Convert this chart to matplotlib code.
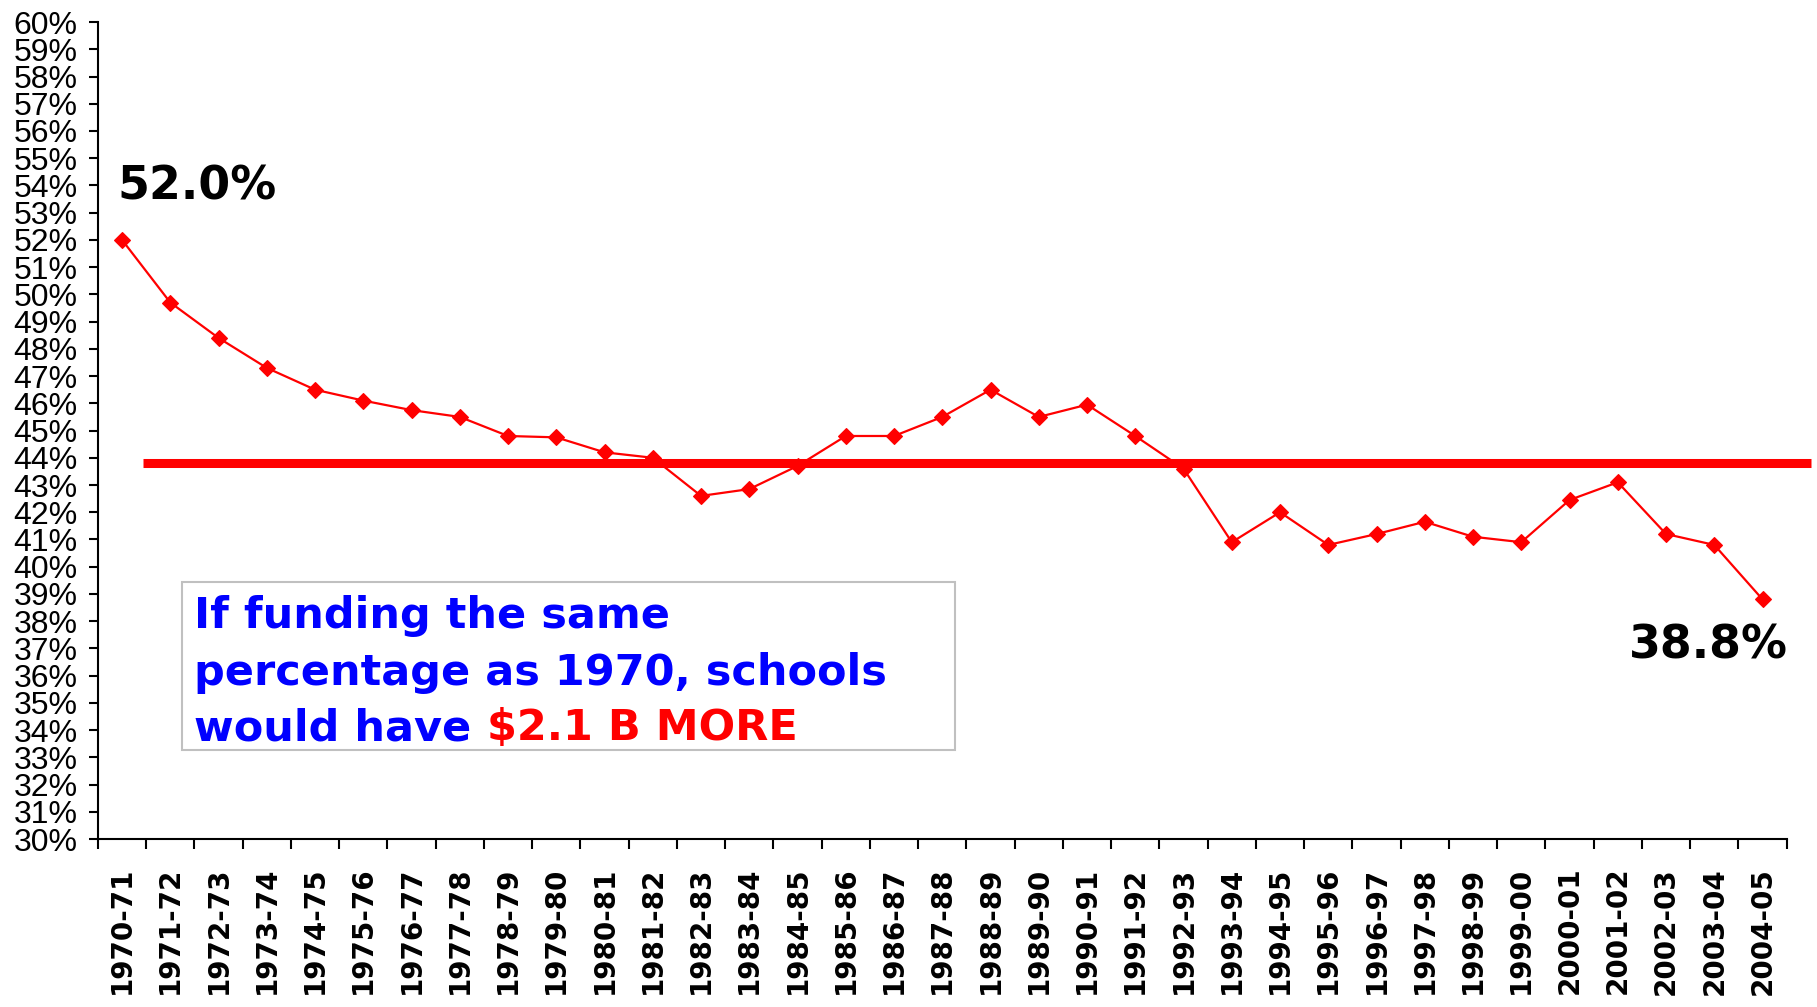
import matplotlib
matplotlib.use("Agg")
import matplotlib.pyplot as plt
from matplotlib.patches import Rectangle

# %% data
years = [
    "1970-71", "1971-72", "1972-73", "1973-74", "1974-75", "1975-76", "1976-77",
    "1977-78", "1978-79", "1979-80", "1980-81", "1981-82", "1982-83", "1983-84",
    "1984-85", "1985-86", "1986-87", "1987-88", "1988-89", "1989-90", "1990-91",
    "1991-92", "1992-93", "1993-94", "1994-95", "1995-96", "1996-97", "1997-98",
    "1998-99", "1999-00", "2000-01", "2001-02", "2002-03", "2003-04", "2004-05",
]
share = [
    52.0, 49.7, 48.4, 47.3, 46.5, 46.1, 45.75, 45.5, 44.8, 44.75, 44.2, 44.0,
    42.6, 42.85, 43.7, 44.8, 44.8, 45.5, 46.5, 45.5, 45.95, 44.8, 43.6, 40.9,
    42.0, 40.8, 41.2, 41.65, 41.1, 40.9, 42.45, 43.1, 41.2, 40.8, 38.8,
]
average = 43.8
y_ticks = list(range(30, 61))
first_label = "52.0%"
last_label = "38.8%"
box_lines = ["If funding the same", "percentage as 1970, schools", "would have "]
box_highlight = "$2.1 B MORE"

# %% plot
fig = plt.figure(figsize=(18.17, 10.07), dpi=100)
ax = fig.add_axes([0.0539, 0.1668, 0.9294, 0.8113])

x = list(range(len(years)))
ax.plot(x, share, color="#ff0000", linewidth=1.6, marker="D", markersize=8,
        markeredgewidth=0.8, zorder=3)
ax.plot([0.43, 35.0], [average, average], color="#ff0000", linewidth=6.5,
        solid_capstyle="butt", clip_on=False, zorder=2)

ax.set_xlim(-0.5, len(years) - 0.5)
ax.set_ylim(30, 60)
ax.set_yticks(y_ticks)
ax.set_yticklabels([f"{v}%" for v in y_ticks], fontfamily="Liberation Sans",
                   fontsize=23)
ax.set_xticks([i - 0.5 for i in range(len(years) + 1)])
ax.set_xticklabels([])
ax.set_xticks(x, minor=True)
ax.set_xticklabels(years, minor=True, rotation=90, fontfamily="DejaVu Sans",
                   fontweight="bold", fontsize=20)
ax.tick_params(axis="x", which="minor", length=0, pad=20)
ax.tick_params(axis="x", which="major", length=7, width=1.5)
ax.tick_params(axis="y", length=6.5, width=1.5, pad=8)
ax.spines[["top", "right"]].set_visible(False)
ax.spines[["left", "bottom"]].set_linewidth(1.5)

# end point labels
ax.annotate(first_label, (x[0], share[0]), xytext=(-3, 29),
            textcoords="offset points", ha="left", va="baseline",
            fontsize=33, fontweight="bold", fontfamily="DejaVu Sans")
ax.annotate(last_label, (x[-1], share[-1]), xytext=(18, -42.5),
            textcoords="offset points", ha="right", va="baseline",
            fontsize=33, fontweight="bold", fontfamily="DejaVu Sans")

# text box
ax.add_patch(Rectangle((0.0497, 0.1089), 0.4578, 0.2057, transform=ax.transAxes,
                       facecolor="white", edgecolor="#c0c0c0", linewidth=1.5,
                       zorder=4))
for line, ypos in zip(box_lines, [0.2583, 0.1885, 0.1212]):
    t = ax.text(0.0571, ypos, line, transform=ax.transAxes, color="#0000ff",
                fontsize=31, fontweight="bold", fontfamily="DejaVu Sans",
                ha="left", va="baseline", zorder=5)
ax.annotate(box_highlight.replace("$", r"\$"), xy=(1, 0), xycoords=t,
            ha="left", va="bottom", color="#ff0000", fontsize=31,
            fontweight="bold", fontfamily="DejaVu Sans", zorder=5)

fig.savefig("out.png", dpi=100)
